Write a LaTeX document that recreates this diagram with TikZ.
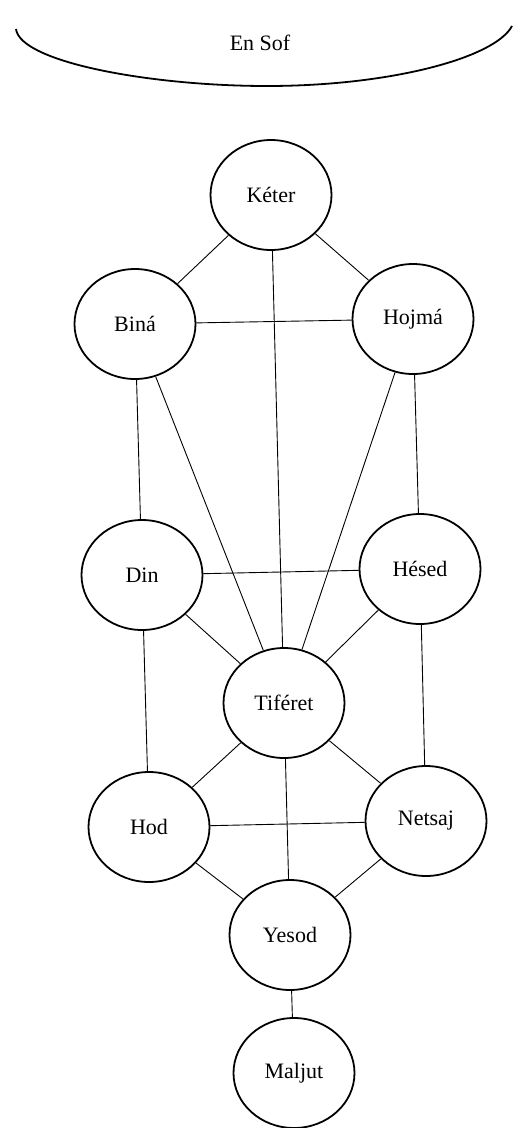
\documentclass[tikz,border=0pt]{standalone}
\usepackage{fontspec}
\setmainfont{Liberation Serif}
\usetikzlibrary{shapes.geometric}
\begin{document}
\begin{tikzpicture}[x=1pt,y=-1pt,
  sefira/.style={draw,ellipse,line width=1.8pt,minimum width=121pt,minimum height=110pt,inner sep=0pt,font=\fontsize{22}{26}\selectfont},
  link/.style={line width=0.9pt}]
\useasboundingbox (0,0) rectangle (513,1128);
% En Sof
\coordinate (esL) at (16,29);
\coordinate (esB) at (267,86);
\coordinate (esR) at (512,26);
\draw[line width=1.8pt] (esL) .. controls (20,62) and (150,86) .. (esB) .. controls (390,86) and (495,58) .. (esR);
\node[font=\fontsize{22}{26}\selectfont] (ensof) at (260,43) {En Sof};
% Sefirot
\node[sefira] (keter) at (271,195) {Kéter};
\node[sefira] (bina) at (135,324) {Biná};
\node[sefira] (hojma) at (413,319) {Hojmá};
\node[sefira] (din) at (142,575) {Din};
\node[sefira] (hesed) at (420,569) {Hésed};
\node[sefira] (tiferet) at (284,703) {Tiféret};
\node[sefira] (hod) at (149,827) {Hod};
\node[sefira] (netsaj) at (426,821) {Netsaj};
\node[sefira] (yesod) at (290,935) {Yesod};
\node[sefira] (maljut) at (294,1073) {Maljut};
% Paths
\draw[link] (keter) -- (bina);
\draw[link] (keter) -- (hojma);
\draw[link] (keter) -- (tiferet);
\draw[link] (bina) -- (hojma);
\draw[link] (bina) -- (din);
\draw[link] (bina) -- (tiferet);
\draw[link] (hojma) -- (hesed);
\draw[link] (hojma) -- (tiferet);
\draw[link] (din) -- (hesed);
\draw[link] (din) -- (tiferet);
\draw[link] (hesed) -- (tiferet);
\draw[link] (din) -- (hod);
\draw[link] (hesed) -- (netsaj);
\draw[link] (tiferet) -- (hod);
\draw[link] (tiferet) -- (netsaj);
\draw[link] (tiferet) -- (yesod);
\draw[link] (hod) -- (netsaj);
\draw[link] (hod) -- (yesod);
\draw[link] (netsaj) -- (yesod);
\draw[link] (yesod) -- (maljut);
\end{tikzpicture}
\end{document}
